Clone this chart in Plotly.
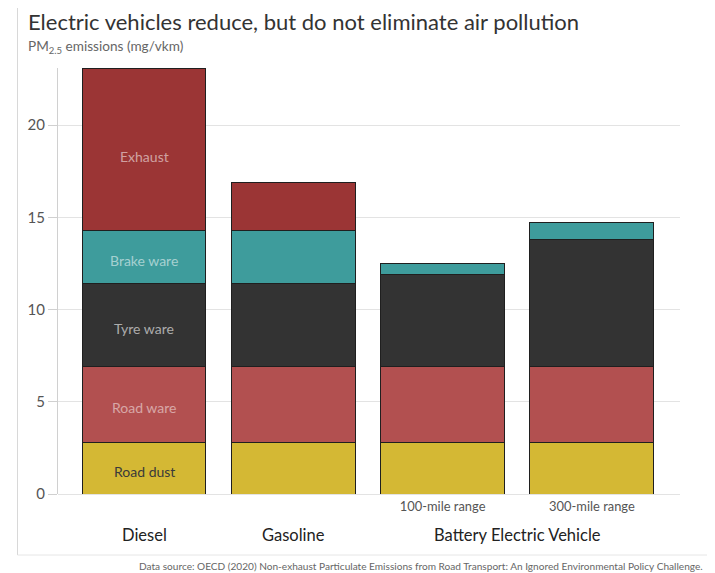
import plotly.graph_objects as go

categories = ["Diesel", "Gasoline", "BEV 100", "BEV 300"]
sub_labels = ["", "", "100-mile range", "300-mile range"]
group_labels = ["Diesel", "Gasoline", "Battery Electric Vehicle"]
group_centers = [0, 1, 2.5]

road_dust = [2.8, 2.8, 2.8, 2.8]
road_ware = [4.1, 4.1, 4.1, 4.1]
tyre_ware = [4.5, 4.5, 5.0, 6.9]
brake_ware = [2.9, 2.9, 0.6, 0.9]
exhaust = [8.8, 2.6, 0.0, 0.0]

series = [
    ("Road dust", road_dust, "#d4b834", "#3a3a3a"),
    ("Road ware", road_ware, "#b25050", "rgba(255,255,255,0.5)"),
    ("Tyre ware", tyre_ware, "#333333", "rgba(255,255,255,0.6)"),
    ("Brake ware", brake_ware, "#3e9c9c", "rgba(255,255,255,0.55)"),
    ("Exhaust", exhaust, "#9b3535", "rgba(255,255,255,0.55)"),
]

FONT = "Lato"
OFF = 8  # page body offset
W, H = 715 - OFF, 573 - OFF
PL, PT, PR, PB = 58 - OFF, 68 - OFF, 35, 573 - 494
PW = W - PL - PR
PH = H - PT - PB


def px_x(x):
    return (x - OFF - PL) / PW


def px_y(y):
    return (H - PB - (y - OFF)) / PH


xpos = list(range(len(categories)))

fig = go.Figure()
for name, vals, color, tcolor in series:
    fig.add_trace(go.Bar(
        x=xpos, y=vals, name=name, width=0.83,
        marker=dict(color=color, line=dict(color="#1f1f1f", width=1)),
        hoverinfo="skip", showlegend=False,
    ))

totals = [sum(v) for v in zip(road_dust, road_ware, tyre_ware, brake_ware, exhaust)]

annotations = [
    dict(text="Electric vehicles reduce, but do not eliminate air pollution",
         xref="paper", yref="paper", x=px_x(26), y=px_y(21),
         xanchor="left", yanchor="middle", showarrow=False,
         font=dict(family=FONT, size=22, color="#333333")),
    dict(text="PM<sub>2.5</sub> emissions (mg/vkm)",
         xref="paper", yref="paper", x=px_x(26), y=px_y(47),
         xanchor="left", yanchor="middle", showarrow=False,
         font=dict(family=FONT, size=13.6, color="#666666")),
    dict(text="Data source: OECD (2020) Non-exhaust Particulate Emissions from Road Transport: An Ignored Environmental Policy Challenge.",
         xref="paper", yref="paper", x=px_x(705), y=px_y(566),
         xanchor="right", yanchor="middle", showarrow=False,
         font=dict(family=FONT, size=10.1, color="#666666")),
]
# segment labels inside the first (Diesel) bar, at each segment's midpoint
base = 0.0
for name, vals, color, tcolor in series:
    mid = base + vals[0] / 2
    annotations.append(dict(text=name, xref="x", yref="y", x=xpos[0], y=mid,
                            yshift=-7 if name == "Exhaust" else -3,
                            xanchor="center", yanchor="middle", showarrow=False,
                            font=dict(family=FONT, size=14, color=tcolor)))
    base += vals[0]

for lbl, cx in zip(group_labels, group_centers):
    annotations.append(dict(text=lbl, xref="x", yref="paper", x=cx,
                            y=px_y(535), xanchor="center", yanchor="middle",
                            showarrow=False, font=dict(family=FONT, size=16.5, color="#222222")))

fig.update_layout(
    barmode="stack",
    width=W, height=H,
    margin=dict(l=PL, r=PR, t=PT, b=PB),
    paper_bgcolor="white", plot_bgcolor="white",
    font=dict(family=FONT),
    annotations=annotations,
    shapes=[
        dict(type="line", xref="paper", yref="paper",
             x0=px_x(17.5), x1=px_x(17.5), y0=px_y(555), y1=px_y(-20),
             line=dict(color="#d8d8d8", width=1)),
        dict(type="line", xref="paper", yref="paper",
             x0=px_x(17.5), x1=px_x(730), y0=px_y(555), y1=px_y(555),
             line=dict(color="#e6e6e6", width=1)),
    ],
)
fig.update_xaxes(
    tickmode="array", tickvals=xpos, ticktext=sub_labels,
    range=[-0.576, 3.59], showgrid=False, zeroline=False, showline=False,
    ticks="", tickfont=dict(family=FONT, size=12.9, color="#555555"),
    ticklabelstandoff=3, automargin=False,
)
fig.update_yaxes(
    range=[0, max(totals)], tickvals=[0, 5, 10, 15, 20],
    showgrid=True, gridcolor="#e3e3e3", gridwidth=1,
    zeroline=True, zerolinecolor="#e3e3e3", zerolinewidth=1,
    showline=True, linecolor="#d0d0d0", linewidth=1,
    ticks="outside", ticklen=9, tickcolor="#d0d0d0",
    tickfont=dict(family=FONT, size=15, color="#555555"),
    automargin=False,
)

fig.write_html("out.html")
